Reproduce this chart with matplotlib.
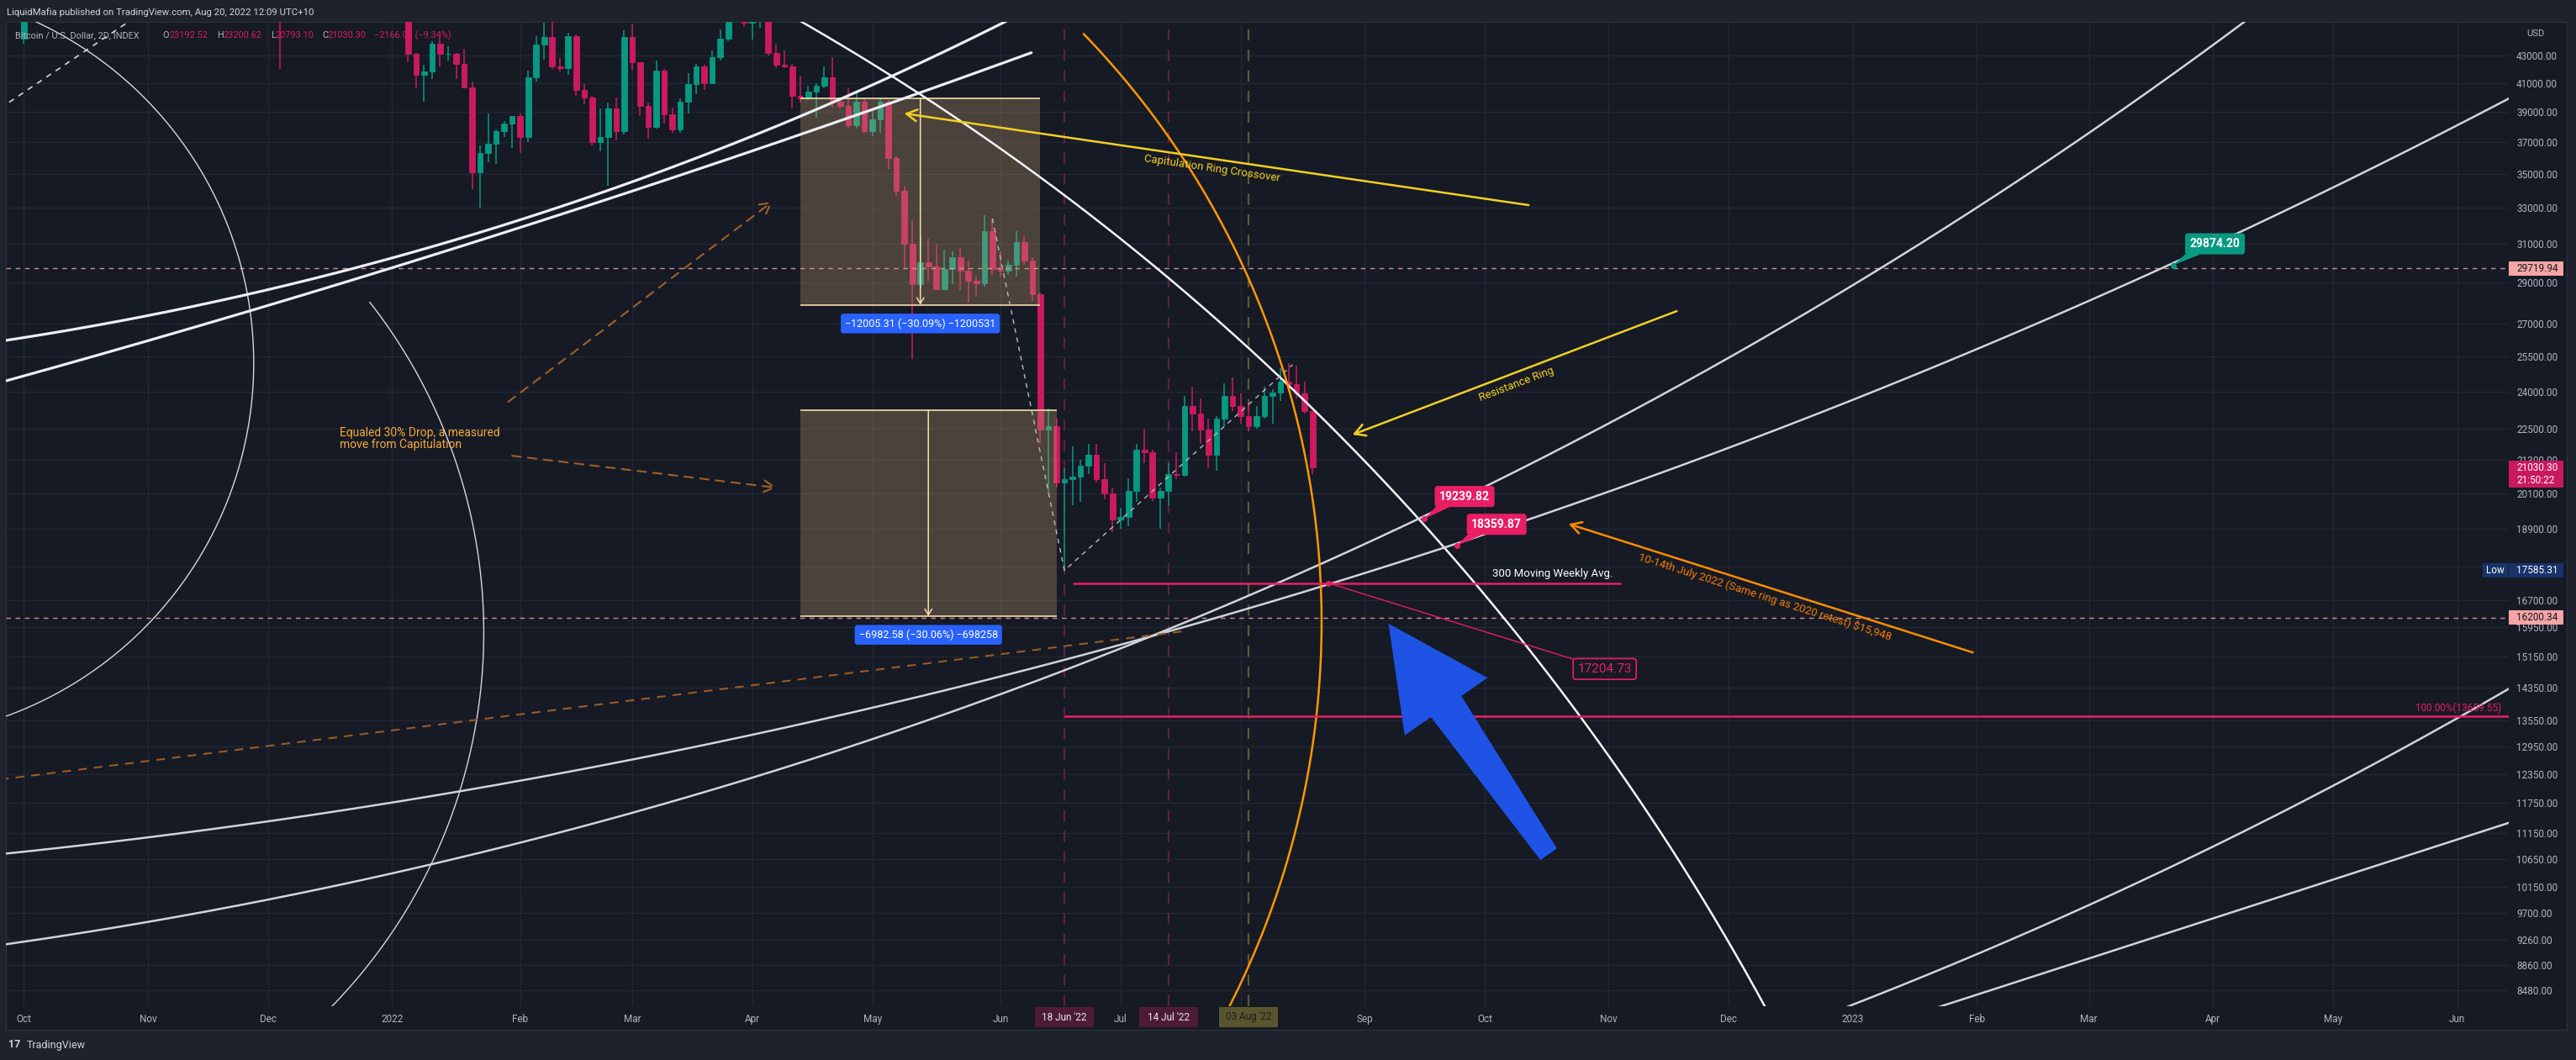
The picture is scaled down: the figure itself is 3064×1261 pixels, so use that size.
import numpy as np
import pandas as pd
import matplotlib
matplotlib.use("Agg")
import matplotlib.pyplot as plt
import matplotlib.dates as mdates
from matplotlib.patches import Rectangle, Polygon
from matplotlib.transforms import IdentityTransform
from matplotlib.ticker import NullLocator

plt.rcParams['font.family'] = ['Roboto', 'DejaVu Sans']

W, H = 3064, 1261

# ---------------- data ----------------
# 2D candles, prices in thousands of USD
early_dates = ['2021-10-01', '2021-12-04']
early_open = [44.3, 53.6]
early_high = [48.5, 53.9]
early_low = [43.9, 42.0]
early_close = [47.7, 49.4]

bar_dates = pd.date_range('2021-12-30', '2022-08-19', freq='2D')
bar_open = [46.5,
            46.2, 47.3, 46.5, 43.1, 41.6, 41.8, 43.9, 43.1, 43.15, 42.4, 40.7, 35.1, 36.3, 36.9, 37.7, 38.2,
            38.7, 37.3, 41.4, 43.8, 44.4, 42.2, 42.1, 44.5, 40.5, 40.0, 37.0, 37.3, 39.2, 37.7,
            44.4, 42.5, 39.4, 38.0, 41.9, 38.8, 37.8, 39.7, 40.9, 42.2, 41.0, 42.9, 44.3, 46.8, 47.5,
            45.5, 46.3, 46.6, 43.2, 42.3, 42.2, 40.1, 39.9, 40.4, 40.8, 41.4, 39.7, 39.4, 38.1, 39.7,
            37.7, 38.5, 39.7, 36.0, 34.0, 31.0, 28.9, 30.05, 29.8, 28.65, 29.7, 30.3, 29.6, 29.1, 28.95, 31.7,
            29.7, 29.6, 29.9, 31.1, 30.1, 28.4, 22.45, 22.6, 20.5, 20.6, 20.7, 21.1, 21.5, 20.6, 20.1,
            19.2, 19.3, 20.2, 21.7, 21.6, 19.95, 20.2, 20.8, 20.75, 23.4, 23.1, 22.45, 21.5, 22.9, 23.8,
            23.4, 23.0, 22.6, 23.0, 23.8, 23.95, 24.4, 24.3, 23.9, 23.19252]
bar_high = [47.9,
            47.9, 47.6, 47.1, 43.2, 42.3, 44.1, 44.4, 43.7, 43.2, 43.5, 41.1, 36.8, 38.9, 37.8, 38.4, 38.7,
            38.9, 41.9, 44.5, 45.5, 45.8, 42.8, 44.7, 44.6, 40.9, 40.1, 39.2, 39.6, 40.0, 44.9,
            45.4, 42.5, 39.6, 42.6, 42.0, 39.3, 39.9, 41.7, 42.4, 42.3, 43.4, 45.0, 46.9, 48.2, 47.7,
            47.4, 47.2, 47.2, 43.9, 43.4, 42.4, 41.5, 40.8, 41.0, 42.2, 42.9, 39.9, 40.6, 40.3, 39.9,
            39.2, 40.0, 39.8, 36.1, 34.3, 32.3, 31.4, 31.3, 31.0, 30.7, 30.6, 30.8, 30.1, 29.3, 32.6, 32.4,
            30.6, 30.1, 31.7, 31.4, 30.3, 28.5, 23.3, 22.9, 21.0, 21.8, 21.3, 21.9, 21.9, 21.2, 20.3,
            19.6, 20.65, 21.9, 22.5, 21.7, 20.3, 21.2, 21.6, 23.8, 24.2, 23.7, 22.9, 23.0, 24.35, 24.6,
            23.9, 23.6, 23.4, 24.2, 24.1, 25.0, 25.2, 25.1, 24.4, 23.20062]
bar_low = [45.7,
           46.2, 45.7, 42.5, 40.6, 39.7, 41.3, 42.2, 42.6, 41.3, 40.6, 34.1, 33.0, 35.7, 35.6, 37.3, 36.6,
           36.3, 37.0, 41.1, 42.7, 42.0, 41.8, 41.6, 40.1, 39.5, 36.8, 36.4, 34.3, 37.1, 37.5,
           41.9, 38.7, 37.2, 37.9, 38.2, 37.6, 37.6, 38.9, 40.2, 40.5, 40.9, 42.6, 44.1, 46.6, 45.2,
           44.2, 45.1, 43.0, 42.1, 42.1, 39.2, 39.6, 39.8, 38.6, 40.6, 39.3, 39.2, 37.9, 37.9, 37.6,
           37.4, 37.6, 35.3, 33.7, 29.7, 25.4, 28.7, 29.1, 28.6, 28.6, 28.9, 28.6, 28.0, 28.3, 28.8, 29.4,
           29.3, 29.4, 29.3, 29.9, 28.1, 21.9, 20.1, 20.3, 17.58531, 19.7, 19.8, 20.8, 20.5, 19.9, 18.8,
           18.9, 19.0, 19.8, 21.2, 19.85, 18.9, 19.7, 20.6, 20.7, 22.4, 21.9, 21.0, 20.9, 22.6, 23.2,
           22.7, 22.4, 22.5, 22.9, 22.7, 23.6, 24.1, 23.7, 23.1, 20.7931]
bar_close = [46.2,
             47.3, 46.5, 43.1, 41.6, 41.8, 43.9, 43.1, 43.15, 42.4, 40.7, 35.1, 36.3, 36.9, 37.7, 38.2, 38.7,
             37.3, 41.4, 43.8, 44.4, 42.2, 42.1, 44.5, 40.5, 40.0, 37.0, 37.3, 39.2, 37.7, 44.4,
             42.5, 39.4, 38.0, 41.9, 38.8, 37.8, 39.7, 40.9, 42.2, 41.0, 42.9, 44.3, 46.8, 47.5, 45.5,
             46.3, 46.6, 43.2, 42.3, 42.2, 40.1, 39.9, 40.4, 40.8, 41.4, 39.7, 39.4, 38.1, 39.7, 37.7,
             38.5, 39.7, 36.0, 34.0, 31.0, 28.9, 30.05, 29.8, 28.65, 29.7, 30.3, 29.6, 29.1, 28.95, 31.7, 29.7,
             29.6, 29.9, 31.1, 30.1, 28.4, 22.45, 22.6, 20.5, 20.6, 20.7, 21.1, 21.5, 20.6, 20.1, 19.2,
             19.3, 20.2, 21.7, 21.6, 19.95, 20.2, 20.8, 20.75, 23.4, 23.1, 22.45, 21.5, 22.9, 23.8, 23.4,
             23.0, 22.6, 23.0, 23.8, 23.95, 24.4, 24.3, 23.9, 23.19, 21.0303]

price_ticks = [43000, 41000, 39000, 37000, 35000, 33000, 31000, 29000, 27000, 25500, 24000, 22500,
               21300, 20100, 18900, 17700, 16700, 15950, 15150, 14350, 13550, 12950, 12350, 11750,
               11150, 10650, 10150, 9700, 9260, 8860, 8480]
month_ticks = ['2021-10-01', '2021-11-01', '2021-12-01', '2022-01-01', '2022-02-02', '2022-03-02',
               '2022-04-01', '2022-05-01', '2022-06-02', '2022-07-02', '2022-08-01', '2022-09-01',
               '2022-10-01', '2022-11-01', '2022-12-01', '2023-01-01', '2023-02-01', '2023-03-01',
               '2023-04-01', '2023-05-01', '2023-06-01']
month_labels = ['Oct', 'Nov', 'Dec', '2022', 'Feb', 'Mar', 'Apr', 'May', 'Jun', 'Jul', '', 'Sep',
                'Oct', 'Nov', 'Dec', '2023', 'Feb', 'Mar', 'Apr', 'May', 'Jun']

# drawings: (date, price) anchors
arc_a = [('2021-10-04 12:00', 45519), ('2021-10-16 18:00', 43378), ('2021-11-16 14:00', 18600)]
arc_b = [('2022-01-09', 24190), ('2022-01-21', 19150), ('2021-12-17', 8253)]
ring_wa = [('2021-09-25', 26180), ('2022-04-02', 37490), ('2022-05-01 12:00', 40920)]
ring_wb = [('2021-09-25', 24370), ('2022-04-02', 36520), ('2022-05-19', 40920)]
ring_d1 = [('2022-05-09', 40920), ('2022-08-27', 22040), ('2022-12-10', 8253)]
ring_u = [('2021-09-25', 9176), ('2022-08-27', 18120), ('2023-04-08', 45390)]
ring_l = [('2021-09-25', 10745), ('2022-08-27', 17316), ('2023-06-14', 39915)]
ring_r1 = [('2022-12-31', 8253), ('2023-05-06', 12325), ('2023-06-14', 14325)]
line_r2 = [('2023-01-12', 8050), ('2023-06-16', 11400)]
arc_orange = [('2022-07-04', 40918), ('2022-08-18', 20783), ('2022-07-31', 8457)]
line_brown = [('2021-09-25', 12233), ('2022-07-19', 15842)]
dash_tl = [('2021-09-25', 39220), ('2021-10-29', 45990)]
arrow_up = [('2022-01-30', 23565), ('2022-04-06', 33356)]
arrow_right = [('2022-01-31', 21461), ('2022-04-07', 20305)]
grey_path = [('2022-05-31', 32400), ('2022-06-18', 17585.31), ('2022-08-14', 25130)]

range_1 = ('2022-04-13', '2022-06-12', 39897.29, 27891.98, '\u221212005.31 (\u221230.09%) \u22121200531')
range_2 = ('2022-04-13', '2022-06-16', 23228.30, 16245.72, '\u22126982.58 (\u221230.06%) \u2212698258')

ma_price = 17204.73
ma_span = ('2022-06-20', '2022-11-04')
ma_dot = '2022-08-23'
ma_tag = ('2022-10-31', 14822)
ma_text = ('2022-10-03', 17476)

callouts = [('19239.82', ('2022-09-16', 19239.82), ('2022-09-26', 19996), '#e91e63'),
            ('18359.87', ('2022-09-24', 18359.87), ('2022-10-04', 19053), '#e91e63'),
            ('29874.20', ('2023-03-22', 29874.20), ('2023-04-01 12:00', 31008), '#089981')]

capit_arrow = [('2022-10-12', 33162), ('2022-05-09', 38881)]
capit_text = ('2022-07-25', 35360)
resist_arrow = [('2022-11-18', 27589), ('2022-08-29', 22262)]
resist_text = ('2022-10-09', 24300)
july_arrow = [('2023-01-31', 15252), ('2022-10-22', 19066)]
july_text = ('2022-12-10', 16795)
blue_arrow = [('2022-10-17', 10745), ('2022-09-07', 16034)]

fib_price = 13659.55
marker_dates = ['2022-06-18', '2022-07-14', '2022-08-03']
marker_labels = ["18 Jun '22", "14 Jul '22", "03 Aug '22"]
marker_colors = ['#4d1a38', '#4d1a38', '#58552f']
marker_lines = ['#5e2042', '#5e2042', '#5c5a30']

# ---------------- figure ----------------
fig = plt.figure(figsize=(W / 100, H / 100), dpi=100, facecolor='#1e222d')
pix = IdentityTransform()

fig.add_artist(Rectangle((7, H - 1225), 3046, 1199, transform=pix, fc='#161a25',
                         ec='#2a2e39', lw=1, zorder=-5))

ax = fig.add_axes([7 / W, (H - 1197) / H, 2977 / W, 1171 / H])
ax.set_facecolor('none')
ax.set_yscale('log')
ax.yaxis.tick_right()
ax.set_yticks(price_ticks)
ax.set_yticklabels([f'{v:.2f}' for v in price_ticks])
ax.yaxis.set_minor_locator(NullLocator())


def num(d):
    return mdates.date2num(pd.Timestamp(d))


ax.set_xticks([num(d) for d in month_ticks])
ax.set_xticklabels(month_labels)
t0 = num('2021-10-01')
ax.set_xlim(t0 - 4.5, t0 + 620.9)
ax.set_ylim(8253, 45586)
ax.tick_params(axis='both', length=0, colors='#b2b5be', labelsize=8.5, pad=6.5)
for s in ax.spines.values():
    s.set_visible(False)
ax.grid(True, color='#232733', lw=1)
ax.set_axisbelow(True)


def disp(points):
    xy = np.array([[num(d), p] for d, p in points], dtype=float)
    return ax.transData.transform(xy)


def data(xy):
    return ax.transData.inverted().transform(np.asarray(xy, dtype=float))


def ring(points, ext0=40, ext1=40, **kw):
    # circle through three anchors, drawn in screen space
    (x1, y1), (x2, y2), (x3, y3) = disp(points)
    d = 2 * (x1 * (y2 - y3) + x2 * (y3 - y1) + x3 * (y1 - y2))
    ux = ((x1**2 + y1**2) * (y2 - y3) + (x2**2 + y2**2) * (y3 - y1) + (x3**2 + y3**2) * (y1 - y2)) / d
    uy = ((x1**2 + y1**2) * (x3 - x2) + (x2**2 + y2**2) * (x1 - x3) + (x3**2 + y3**2) * (x2 - x1)) / d
    r = np.hypot(x1 - ux, y1 - uy)
    a1, a2, a3 = [np.arctan2(y - uy, x - ux) for x, y in ((x1, y1), (x2, y2), (x3, y3))]
    s2 = (a2 - a1) % (2 * np.pi)
    s3 = (a3 - a1) % (2 * np.pi)
    e0, e1 = ext0 / r, ext1 / r
    if s2 < s3:
        t = a1 + np.linspace(-e0, s3 + e1, 900)
    else:
        t = a1 - np.linspace(-e0, 2 * np.pi - s3 + e1, 900)
    pts = data(np.c_[ux + r * np.cos(t), uy + r * np.sin(t)])
    ax.plot(pts[:, 0], pts[:, 1], solid_capstyle='round', **kw)


def seg(points, **kw):
    ax.plot([num(d) for d, p in points], [p for d, p in points], **kw)


def arrow(points, color, lw=2, ls='-', head='->,head_length=0.9,head_width=0.5'):
    (d0, p0), (d1, p1) = points
    ax.annotate('', xy=(num(d1), p1), xytext=(num(d0), p0),
                arrowprops=dict(arrowstyle=head, color=color, lw=lw, linestyle=ls,
                                shrinkA=0, shrinkB=0), zorder=6)


def angle(points):
    (x1, y1), (x2, y2) = disp(points)
    a = np.degrees(np.arctan2(y2 - y1, x2 - x1))
    if a > 90:
        a -= 180
    if a < -90:
        a += 180
    return a


def candles(dates, o, h, l, c):
    x = np.array([num(d) for d in dates])
    o, h, l, c = (np.array(v) * 1000 for v in (o, h, l, c))
    col = np.where(c >= o, '#089981', '#cc1a5e')
    ax.vlines(x, l, h, colors=col, lw=1.1, zorder=2)
    ax.bar(x, np.abs(c - o), width=1.4, bottom=np.minimum(o, c), color=col,
           edgecolor=col, lw=0.6, zorder=2)


candles(early_dates, early_open, early_high, early_low, early_close)
candles(bar_dates, bar_open, bar_high, bar_low, bar_close)

# horizontal dashed levels
for lvl in (29719.94, 16200.34):
    ax.axhline(lvl, color='#f2a3a3', lw=1, ls=(0, (4, 4)), alpha=0.85, zorder=3)

# vertical date markers
for d, c in zip(marker_dates, marker_lines):
    ax.axvline(num(d), color=c, lw=1.6, ls=(0, (6, 5)), zorder=1)

# price ranges
for start, end, top_p, bot_p, label in (range_1, range_2):
    x1, x2 = num(start), num(end)
    ax.add_patch(Rectangle((x1, bot_p), x2 - x1, top_p - bot_p, fc='#c8a070', alpha=0.3,
                           ec='none', zorder=3))
    ax.hlines([top_p, bot_p], x1, x2, color='#f5deaa', lw=1.2, zorder=4)
    xm = (x1 + x2) / 2
    ax.annotate('', xy=(xm, bot_p), xytext=(xm, top_p),
                arrowprops=dict(arrowstyle='->,head_length=0.5,head_width=0.3', color='#f5deaa',
                                lw=1.1, shrinkA=0, shrinkB=0), zorder=4)
    ax.annotate(label, xy=(xm, bot_p), xytext=(0, -16), textcoords='offset points',
                ha='center', va='center', fontsize=9, color='white', zorder=7,
                bbox=dict(boxstyle='round,pad=0.4,rounding_size=0.25', fc='#2962ff', ec='none'))

# rings
ring(arc_a, ext0=30, ext1=400, color='#d6d8de', lw=1.0, zorder=4)
ring(arc_b, ext0=120, ext1=40, color='#d6d8de', lw=1.0, zorder=4)
ring(ring_wa, ext0=40, ext1=250, color='#eceef2', lw=2.3, zorder=4)
ring(ring_wb, ext0=40, ext1=110, color='#eceef2', lw=2.3, zorder=4)
ring(ring_d1, ext0=160, ext1=60, color='#f4f5f7', lw=1.8, zorder=4)
ring(ring_u, color='#d1d4dc', lw=1.8, zorder=4)
ring(ring_l, color='#d1d4dc', lw=1.8, zorder=4)
ring(ring_r1, color='#d1d4dc', lw=1.8, zorder=4)
seg(line_r2, color='#d1d4dc', lw=1.8, zorder=4)
ring(arc_orange, ext0=80, ext1=80, color='#ff9800', lw=1.8, zorder=5)
seg(line_brown, color='#9a5b26', lw=1.5, ls=(0, (5, 4)), zorder=4)
seg(dash_tl, color='#d6d8de', lw=1.2, ls=(0, (4, 4)), zorder=4)
seg(grey_path, color='#b8bcc6', lw=1.0, ls=(0, (4, 4)), zorder=4)

# measured move annotation
arrow(arrow_up, '#a0602a', lw=1.5, ls=(0, (5, 4)))
arrow(arrow_right, '#a0602a', lw=1.5, ls=(0, (5, 4)))
ax.text(num('2021-12-19'), 22550, 'Equaled 30% Drop, a measured\nmove from Capitulation',
        color='#f2a93b', fontsize=10, ha='left', va='top', linespacing=1.0, zorder=6)

# 300 MA and labels
ax.hlines(ma_price, num(ma_span[0]), num(ma_span[1]), color='#e91e63', lw=1.8, zorder=5)
ax.plot([num(ma_dot), num(ma_tag[0])], [ma_price, ma_tag[1]], color='#e91e63', lw=1, zorder=5)
ax.plot(num(ma_dot), ma_price, 'o', ms=4, color='#e91e63', zorder=6)
ax.text(num(ma_text[0]), ma_text[1], '300 Moving Weekly Avg.', color='white', fontsize=9.5,
        ha='left', va='center', zorder=6)
ax.text(num(ma_tag[0]), ma_tag[1], f'{ma_price:.2f}', color='#e91e63', fontsize=11, ha='center',
        va='center', zorder=7,
        bbox=dict(boxstyle='round,pad=0.35,rounding_size=0.2', fc='#161a25', ec='#e91e63', lw=1.2))

# price callouts with a wedge pointing at the dot
for text, dot, box, fc in callouts:
    (dx, dy), (bx, by) = disp([dot, box])
    base = np.array([bx - 22, by - 8])
    v = base - np.array([dx, dy])
    v = v / np.hypot(*v)
    nv = np.array([-v[1], v[0]])
    ax.add_patch(Polygon(data([[dx, dy], base + nv * 6, base - nv * 6]), closed=True,
                         fc=fc, ec='none', zorder=6))
    ax.text(num(box[0]), box[1], text, ha='center', va='center', fontsize=10,
            fontweight='bold', color='white', zorder=7,
            bbox=dict(boxstyle='round,pad=0.35,rounding_size=0.2', fc=fc, ec=fc))
    ax.plot(num(dot[0]), dot[1], 'o', ms=4, color=fc, zorder=7)

# yellow and orange arrows with captions
arrow(capit_arrow, '#f2d024', lw=1.8)
ax.text(num(capit_text[0]), capit_text[1], 'Capitulation Ring Crossover', color='#f2d024',
        fontsize=9.5, rotation=angle(capit_arrow), rotation_mode='anchor', ha='center',
        va='center', zorder=6)
arrow(resist_arrow, '#f2d024', lw=1.8)
ax.text(num(resist_text[0]), resist_text[1], 'Resistance Ring', color='#f2d024', fontsize=9.5,
        rotation=angle(resist_arrow), rotation_mode='anchor', ha='center', va='center', zorder=6)
arrow(july_arrow, '#ff8c00', lw=1.8)
ax.text(num(july_text[0]), july_text[1], '10-14th July 2022 (Same ring as 2020 retest) $15,948',
        color='#f57c00', fontsize=9.5, rotation=angle(july_arrow), rotation_mode='anchor',
        ha='center', va='center', zorder=6)

# blue block arrow
(tx, ty), (px, py) = disp(blue_arrow)
u = np.array([px - tx, py - ty])
u = u / np.hypot(*u)
n = np.array([-u[1], u[0]])
tail, tip = np.array([tx, ty]), np.array([px, py])
neck = tip - u * 120
poly = [tail + n * 12, neck + n * 22, neck + n * 60, tip, neck - n * 60, neck - n * 22, tail - n * 12]
ax.add_patch(Polygon(data(poly), closed=True, fc='#1e53e5', ec='none', zorder=6))

# 100% fib line
ax.hlines(fib_price, num(marker_dates[0]), ax.get_xlim()[1], color='#e91e63', lw=1.8, zorder=5)
ax.annotate(f'100.00%({fib_price:.2f})', xy=(ax.get_xlim()[1], fib_price), xytext=(-6, 6.5),
            textcoords='offset points', ha='right', va='center', color='#e91e63', fontsize=8.5,
            zorder=6)


# ---------------- axis tags (screen pixels) ----------------
def ypix(p):
    return ax.transData.transform((t0, p))[1]


def tag(price, text, fc, tc, below=0.0, x0=2984, w=65, h=17):
    yc = ypix(price)
    fig.add_artist(Rectangle((x0, yc - h / 2 - below), w, h + below, transform=pix, fc=fc,
                             ec='none', zorder=2))
    fig.text(x0 + 9 if w > 40 else x0 + w / 2, yc, text, transform=pix, color=tc, fontsize=8.5,
             ha='left' if w > 40 else 'center', va='center', zorder=3)


tag(29719.94, '29719.94', '#f5a5a5', '#131722')
tag(16200.34, '16200.34', '#f5a5a5', '#131722')
tag(21030.30, '21030.30', '#c8195f', 'white', below=15)
fig.text(2993, ypix(21030.30) - 15, '21:50:22', transform=pix, color='white', fontsize=8.5,
         ha='left', va='center', zorder=3)
tag(17585.31, '17585.31', '#17336a', 'white')
tag(17585.31, 'Low', '#17336a', 'white', x0=2953, w=30)
fig.text(3005, H - 40, 'USD', transform=pix, color='#b2b5be', fontsize=8, ha='left', va='center')

# date markers on time axis
for d, lab, c in zip(marker_dates, marker_labels, marker_colors):
    xc = ax.transData.transform((num(d), 20000))[0]
    fig.add_artist(Rectangle((xc - 35, H - 1222), 70, 24, transform=pix, fc=c, ec='none', zorder=2))
    fig.text(xc, H - 1210, lab, transform=pix, color='#e8e8e8' if c != '#58552f' else '#1e1e1e',
             fontsize=8.5, ha='center', va='center', zorder=3)

# header, legend and footer
fig.text(8, H - 15, 'LiquidMafia published on TradingView.com, Aug 20, 2022 12:09 UTC+10',
         transform=pix, color='#d1d4dc', fontsize=8.2, ha='left', va='center')
legend = [(18, 'Bitcoin / U.S. Dollar, 2D, INDEX', '#b2b5be'), (193, 'O', '#b2b5be'),
          (202, '23192.52', '#d81b60'), (258, 'H', '#b2b5be'), (266, '23200.62', '#d81b60'),
          (322, 'L', '#b2b5be'), (328, '20793.10', '#d81b60'), (383, 'C', '#b2b5be'),
          (389, '21030.30', '#d81b60'), (445, '\u22122166.02 (\u22129.34%)', '#d81b60')]
for x, s, c in legend:
    fig.text(x, H - 42, s, transform=pix, color=c, fontsize=7.8, ha='left', va='center', zorder=3)
fig.text(10, H - 1243, '17', transform=pix, color='#d1d4dc', fontsize=9, fontweight='bold',
         ha='left', va='center')
fig.text(32, H - 1243, 'TradingView', transform=pix, color='#d1d4dc', fontsize=9, ha='left',
         va='center')

fig.savefig('out.png', dpi=100, facecolor=fig.get_facecolor())
